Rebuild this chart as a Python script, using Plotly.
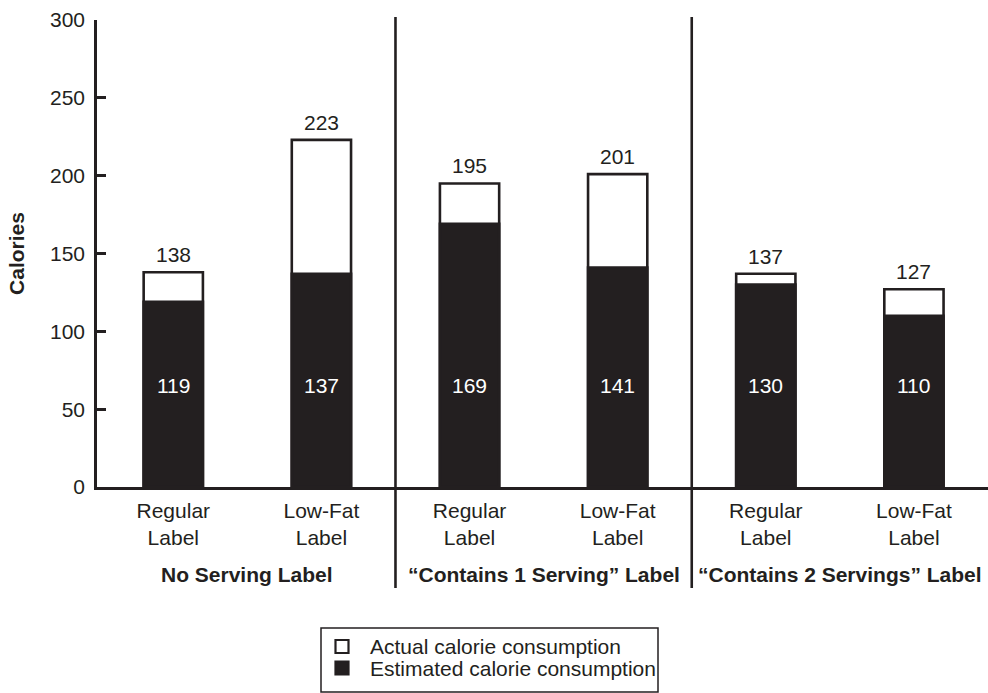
import plotly.graph_objects as go

# Calories per condition
conditions = ["Regular<br>Label", "Low-Fat<br>Label",
              "Regular<br>Label", "Low-Fat<br>Label",
              "Regular<br>Label", "Low-Fat<br>Label"]
actual = [138, 223, 195, 201, 137, 127]
estimated = [119, 137, 169, 141, 130, 110]
groups = ["No Serving Label", "\u201cContains 1 Serving\u201d Label",
          "\u201cContains 2 Servings\u201d Label"]
series_names = ["Actual calorie consumption", "Estimated calorie consumption"]
y_ticks = [0, 50, 100, 150, 200, 250, 300]

INK = "#231f20"
FONT = "Liberation Sans, Arial, Helvetica, sans-serif"
FS = 21

W, H = 988, 693
ML, MR, MT, MB = 97, 0, 20, 206
PW, PH = W - ML - MR, H - MT - MB


def xp(px):
    """pixel column -> paper x"""
    return (px - ML) / PW


def yp(py):
    """pixel row -> paper y"""
    return (H - MB - py) / PH


xpos = list(range(len(conditions)))

fig = go.Figure()
fig.add_trace(go.Bar(
    x=xpos, y=actual, name=series_names[0], showlegend=False,
    width=0.40, marker=dict(color="white", line=dict(color=INK, width=2.6)),
))
fig.add_trace(go.Bar(
    x=xpos, y=estimated, name=series_names[1], showlegend=False,
    width=0.40, marker=dict(color=INK, line=dict(color=INK, width=2.6)),
))

annotations = []
for i, (a, e) in enumerate(zip(actual, estimated)):
    annotations.append(dict(x=i, y=a, text=str(a), showarrow=False,
                            xref="x", yref="y", yanchor="bottom", yshift=4,
                            font=dict(family=FONT, size=FS, color=INK)))
    annotations.append(dict(x=i, y=65, text=str(e), showarrow=False,
                            xref="x", yref="y", yanchor="middle",
                            font=dict(family=FONT, size=FS, color="white")))

# group captions under each pair of bars
for g, name in enumerate(groups):
    annotations.append(dict(x=2 * g + 0.5, y=yp(574), text="<b>" + name + "</b>",
                            showarrow=False, xref="x", yref="paper",
                            yanchor="middle",
                            font=dict(family=FONT, size=FS, color=INK)))

shapes = []
# separators between the three label conditions
for xd in (1.5, 3.5):
    shapes.append(dict(type="line", xref="x", yref="paper",
                       x0=xd, x1=xd, y0=yp(588), y1=yp(17),
                       line=dict(color=INK, width=2.6)))

# key box below the chart
shapes.append(dict(type="rect", xref="paper", yref="paper",
                   x0=xp(321), x1=xp(658), y0=yp(692), y1=yp(628),
                   line=dict(color=INK, width=1.5), fillcolor="white"))
key_rows = [646.5, 668]
key_fill = ["white", INK]
for row, fill, name in zip(key_rows, key_fill, series_names):
    shapes.append(dict(type="rect", xref="paper", yref="paper",
                       x0=xp(335.5), x1=xp(348.5), y0=yp(row + 6.5), y1=yp(row - 6.5),
                       line=dict(color=INK, width=2.2), fillcolor=fill))
    annotations.append(dict(x=xp(368), y=yp(row), text=name, showarrow=False,
                            xref="paper", yref="paper",
                            xanchor="left", yanchor="middle",
                            font=dict(family=FONT, size=FS, color=INK)))

fig.update_layout(
    width=W, height=H,
    margin=dict(l=ML, r=MR, t=MT, b=MB, autoexpand=False),
    barmode="overlay",
    plot_bgcolor="white", paper_bgcolor="white",
    font=dict(family=FONT, size=FS, color=INK),
    annotations=annotations,
    shapes=shapes,
    showlegend=False,
    xaxis=dict(
        range=[-0.515, 5.5], tickmode="array", tickvals=xpos, ticktext=conditions,
        tickangle=0, automargin=False, ticklabelstandoff=3,
        showline=True, linecolor=INK, linewidth=2.6, ticks="",
        showgrid=False, zeroline=False, fixedrange=True,
        tickfont=dict(family=FONT, size=FS, color=INK),
    ),
    yaxis=dict(
        range=[0, 300], tickmode="array", tickvals=y_ticks, automargin=False,
        showline=True, linecolor=INK, linewidth=2.6,
        ticks="inside", ticklen=9, tickwidth=2.6, tickcolor=INK,
        ticklabelstandoff=5,
        showgrid=False, zeroline=False,
        title=dict(text="<b>Calories</b>", standoff=20,
                   font=dict(family=FONT, size=FS, color=INK)),
        tickfont=dict(family=FONT, size=FS, color=INK),
    ),
)

fig.write_html("out.html")
